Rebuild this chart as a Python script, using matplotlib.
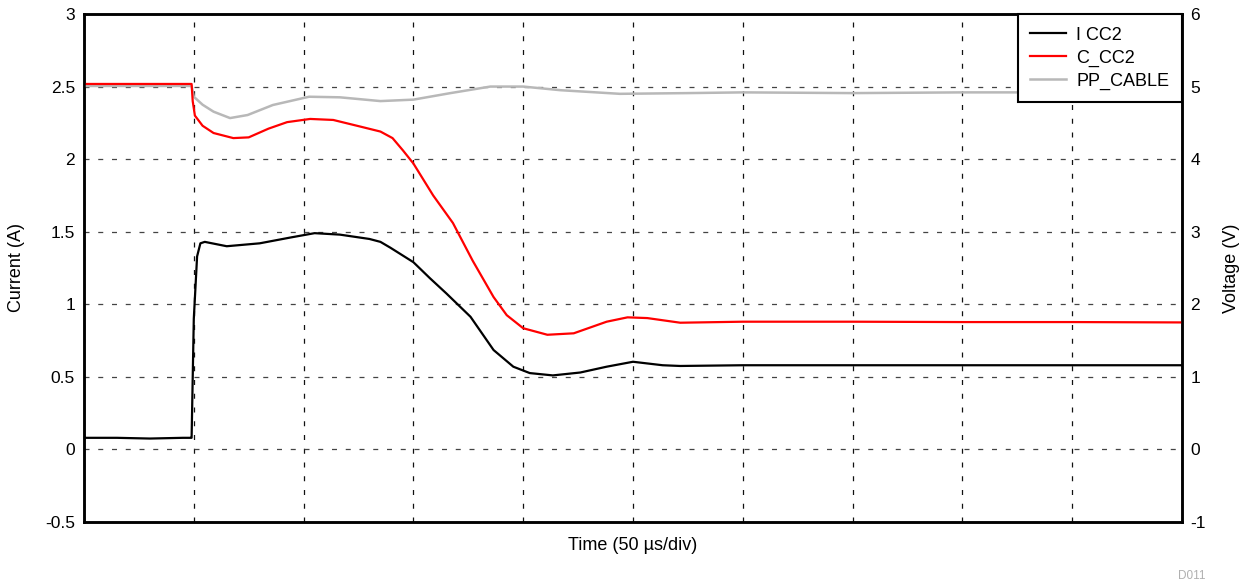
import matplotlib
matplotlib.use("Agg")
import matplotlib.pyplot as plt

plt.rcParams['font.family'] = ['Liberation Sans', 'DejaVu Sans']

# Time in divisions (50 us/div)
t_icc2 = [0, 0.3, 0.6, 0.9, 0.97, 0.98, 1.0, 1.03, 1.06, 1.1, 1.3, 1.6, 1.88, 2.1, 2.33,
          2.6, 2.7, 2.79, 3.0, 3.15, 3.3, 3.52, 3.73, 3.91, 4.06, 4.27, 4.52, 4.76, 5.0,
          5.27, 5.43, 6, 7, 8, 9, 10]
i_cc2 = [0.08, 0.08, 0.075, 0.08, 0.08, 0.08, 0.9, 1.33, 1.42, 1.43, 1.40, 1.42, 1.46, 1.49, 1.48,
         1.45, 1.43, 1.39, 1.29, 1.18, 1.075, 0.914, 0.685, 0.57, 0.526, 0.51, 0.53, 0.57, 0.604,
         0.58, 0.575, 0.58, 0.58, 0.58, 0.58, 0.58]

t_ccc2 = [0, 0.98, 0.99, 1.01, 1.08, 1.18, 1.36, 1.5, 1.68, 1.85, 2.06, 2.27, 2.54, 2.7, 2.81,
          2.905, 3.0, 3.18, 3.36, 3.54, 3.73, 3.85, 4.0, 4.22, 4.46, 4.76, 4.95, 5.13,
          5.43, 6, 7, 8, 9, 10]
v_ccc2 = [5.036, 5.036, 4.80, 4.60, 4.46, 4.36, 4.29, 4.30, 4.42, 4.51, 4.554, 4.54, 4.44, 4.38, 4.29,
          4.12, 3.94, 3.50, 3.12, 2.60, 2.10, 1.85, 1.67, 1.58, 1.60, 1.76, 1.82, 1.81,
          1.746, 1.76, 1.76, 1.755, 1.755, 1.75]

t_pp = [0, 0.98, 1.0, 1.08, 1.18, 1.33, 1.49, 1.72, 2.05, 2.33, 2.7, 3.0, 3.33, 3.7, 4.0,
        4.34, 4.88, 5.5, 6, 7, 8, 9, 10]
v_pp = [5.008, 5.008, 4.86, 4.75, 4.654, 4.566, 4.608, 4.746, 4.86, 4.852, 4.80, 4.82, 4.908, 5.00, 5.00,
        4.95, 4.90, 4.91, 4.92, 4.91, 4.92, 4.92, 4.92]

left_ticks = [-0.5, 0, 0.5, 1, 1.5, 2, 2.5, 3]
left_labels = ["-0.5", "0", "0.5", "1", "1.5", "2", "2.5", "3"]
right_ticks = [-1, 0, 1, 2, 3, 4, 5, 6]
right_labels = ["-1", "0", "1", "2", "3", "4", "5", "6"]

fig = plt.figure(figsize=(12.46, 5.82), dpi=100)
ax = fig.add_axes([84/1246, 60/582, 1098/1246, 508/582])
ax2 = ax.twinx()

ax.set_xlim(0, 10)
ax.set_ylim(-0.5, 3)
ax2.set_ylim(-1, 6)

ax.set_xticks(range(11))
ax.set_xticklabels([])
ax.set_yticks(left_ticks)
ax.set_yticklabels(left_labels, fontsize=12.5)
ax2.set_yticks(right_ticks)
ax2.set_yticklabels(right_labels, fontsize=12.5)
ax.tick_params(axis='both', length=0, pad=6.5)
ax2.tick_params(axis='y', length=0, pad=6)

ax.xaxis.grid(True, color='#111111', linestyle=(0, (4, 7)), linewidth=0.9)
ax.yaxis.grid(True, color='#444444', linestyle=(0, (4, 7)), linewidth=0.9)

l1, = ax.plot(t_icc2, i_cc2, color='black', lw=1.6, label='I CC2')
l3, = ax2.plot(t_pp, v_pp, color='#b8b8b8', lw=1.8, label='PP_CABLE')
l2, = ax2.plot(t_ccc2, v_ccc2, color='#ff0000', lw=1.6, label='C_CC2')

for a in (ax, ax2):
    for s in a.spines.values():
        s.set_linewidth(1.8)
        s.set_color('black')

ax.set_ylabel('Current (A)', fontsize=13)
ax2.set_ylabel('Voltage (V)', fontsize=13)
ax.yaxis.set_label_coords(-0.0537, 0.5)
ax2.yaxis.set_label_coords(1.0373, 0.5)
ax.set_xlabel('Time (50 \u00b5s/div)', fontsize=13, labelpad=4)

leg = ax2.legend(handles=[l1, l2, l3], loc='upper right', fontsize=13,
                 frameon=True, fancybox=False, borderaxespad=0,
                 handlelength=1.95, handletextpad=0.6, labelspacing=0.32,
                 borderpad=0.7)
leg.get_frame().set_edgecolor('black')
leg.get_frame().set_linewidth(1.5)
leg.get_frame().set_alpha(1)

fig.text(1178/1246, 1 - 576/582, 'D011', color='#b0b0b0', fontsize=8.5,
         ha='left', va='center')

fig.savefig('out.png', dpi=100)
